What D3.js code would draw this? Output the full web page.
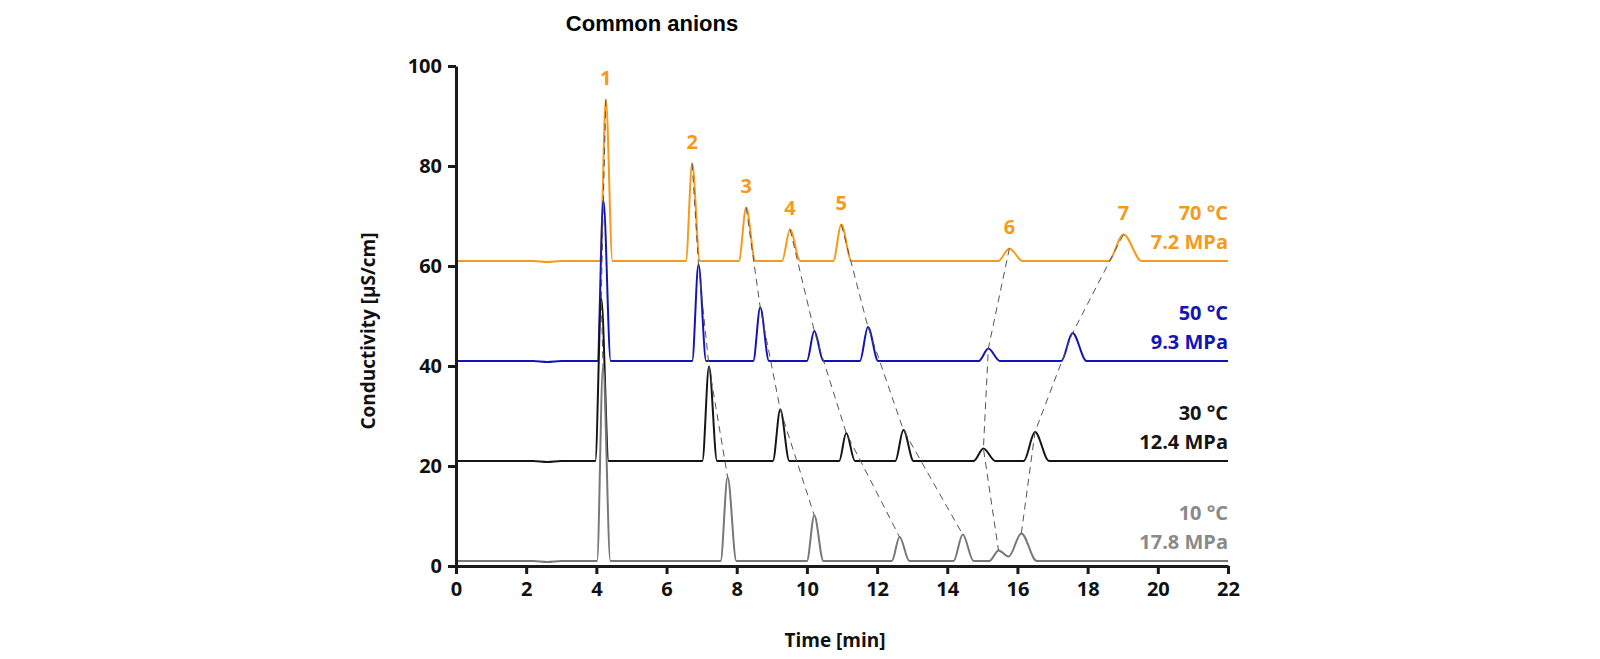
<!DOCTYPE html>
<html>
<head>
<meta charset="utf-8">
<script src="https://cdn.jsdelivr.net/npm/d3@7"></script>
<style>
  body { margin: 0; background: #fff; }
  text { font-family: "Open Sans", sans-serif; font-weight: 700; }
  .title { font-family: "Liberation Sans", Arial, sans-serif; }
</style>
</head>
<body>
<div id="chart"></div>
<script>
const width = 1600,
  height = 659,
  margin = { top: 66, bottom: 93, left: 456, right: 372 };

// chromatograms, [time in min, conductivity in µS/cm]
const trace70 = [
  [0, 61], [2.2, 61], [2.6, 60.8], [3.0, 61],
  [4.11, 61], [4.27, 93.3], [4.46, 61],
  [6.55, 61], [6.73, 80.5], [6.95, 61],
  [8.06, 61], [8.27, 71.7], [8.53, 61],
  [9.29, 61], [9.52, 67.3], [9.81, 61],
  [10.75, 61], [10.98, 68.3], [11.27, 61],
  [15.45, 61], [15.77, 63.5], [16.15, 61],
  [18.59, 61], [19.02, 66.3], [19.54, 61],
  [22, 61],
];
const trace50 = [
  [0, 41], [2.2, 41], [2.6, 40.8], [3.0, 41],
  [4.03, 41], [4.2, 73.1], [4.41, 41],
  [6.73, 41], [6.91, 60.3], [7.13, 41],
  [8.47, 41], [8.67, 51.7], [8.92, 41],
  [10.0, 41], [10.21, 47.0], [10.47, 41],
  [11.51, 41], [11.74, 47.8], [12.03, 41],
  [14.9, 41], [15.17, 43.5], [15.5, 41],
  [17.25, 41], [17.57, 46.6], [17.97, 41],
  [22, 41],
];
const trace30 = [
  [0, 21], [2.2, 21], [2.6, 20.8], [3.0, 21],
  [3.97, 21], [4.14, 53.5], [4.35, 21],
  [7.02, 21], [7.21, 39.9], [7.44, 21],
  [9.03, 21], [9.24, 31.3], [9.5, 21],
  [10.92, 21], [11.12, 26.6], [11.37, 21],
  [12.52, 21], [12.75, 27.2], [13.04, 21],
  [14.75, 21], [15.03, 23.5], [15.37, 21],
  [16.18, 21], [16.5, 26.8], [16.9, 21],
  [22, 21],
];
const trace10 = [
  [0, 1], [2.2, 1], [2.6, 0.8], [3.0, 1],
  [4.02, 1], [4.19, 40], [4.4, 1],
  [7.54, 1], [7.74, 17.8], [7.99, 1],
  [10.0, 1], [10.21, 10.1], [10.47, 1],
  [12.42, 1], [12.64, 5.8], [12.92, 1],
  [14.18, 1], [14.44, 6.3], [14.75, 1],
  [15.2, 1], [15.46, 3.1], [15.75, 1.9], [16.11, 6.5], [16.55, 1],
  [22, 1],
];

// peak apexes (time, height) per run, used for the dashed guide lines
const apex70 = [[4.27, 93.3], [6.73, 80.5], [8.27, 71.7], [9.52, 67.3], [10.98, 68.3], [15.77, 63.5], [19.02, 66.3]];
const apex50 = [[4.2, 73.1], [6.91, 60.3], [8.67, 51.7], [10.21, 47.0], [11.74, 47.8], [15.17, 43.5], [17.57, 46.6]];
const apex30 = [[4.14, 53.5], [7.21, 39.9], [9.24, 31.3], [11.12, 26.6], [12.75, 27.2], [15.03, 23.5], [16.5, 26.8]];
const apex10 = [[4.19, 40], [7.74, 17.8], [10.21, 10.1], [12.64, 5.8], [14.44, 6.3], [15.46, 3.1], [16.11, 6.5]];

const peakLabels = ["1", "2", "3", "4", "5", "6", "7"];
const runTemps = ["70 °C", "50 °C", "30 °C", "10 °C"];
const runPressures = ["7.2 MPa", "9.3 MPa", "12.4 MPa", "17.8 MPa"];
const runColors = ["#f59a1b", "#1414b4", "#151515", "#8a8a8a"];
const xTicks = [0, 2, 4, 6, 8, 10, 12, 14, 16, 18, 20, 22];
const yTicks = [0, 20, 40, 60, 80, 100];

const traces = [trace70, trace50, trace30, trace10];
const apexes = [apex70, apex50, apex30, apex10];

const svg = d3
  .select("#chart")
  .append("svg")
  .attr("width", width)
  .attr("height", height);

const xScale = d3
  .scaleLinear()
  .domain([0, 22])
  .range([margin.left, width - margin.right]);

const yScale = d3
  .scaleLinear()
  .domain([0, 100])
  .range([height - margin.bottom, margin.top]);

svg
  .append("text")
  .attr("class", "title")
  .attr("x", 652)
  .attr("y", 31)
  .attr("text-anchor", "middle")
  .attr("font-size", 22)
  .text("Common anions");

const line = d3
  .line()
  .x(d => xScale(d[0]))
  .y(d => yScale(d[1]))
  .curve(d3.curveMonotoneX);

svg
  .selectAll("path.trace")
  .data(traces)
  .join("path")
  .attr("class", "trace")
  .attr("fill", "none")
  .attr("stroke", (d, i) => (i === 3 ? "#777" : runColors[i]))
  .attr("stroke-width", 2)
  .attr("stroke-linejoin", "round")
  .attr("d", line);

// dashed lines joining the same peak from run to run
const guide = d3
  .line()
  .x(d => xScale(d[0]))
  .y(d => yScale(d[1]));

svg
  .selectAll("path.guide")
  .data(peakLabels.map((p, i) => apexes.map(a => a[i])))
  .join("path")
  .attr("class", "guide")
  .attr("fill", "none")
  .attr("stroke", "#555")
  .attr("stroke-width", 1)
  .attr("stroke-dasharray", "7,5")
  .attr("d", guide);

svg
  .selectAll("text.peak")
  .data(apex70)
  .join("text")
  .attr("class", "peak")
  .attr("x", d => xScale(d[0]))
  .attr("y", d => yScale(d[1]) - 15)
  .attr("text-anchor", "middle")
  .attr("font-size", 20)
  .attr("fill", runColors[0])
  .text((d, i) => peakLabels[i]);

// run labels at the right end of each trace
const baseY = traces.map(t => t[t.length - 1][1]);
runTemps.forEach((t, i) => {
  svg
    .append("text")
    .attr("x", xScale(22))
    .attr("y", yScale(baseY[i]) - 41)
    .attr("text-anchor", "end")
    .attr("font-size", 20)
    .attr("fill", runColors[i])
    .text(t);
  svg
    .append("text")
    .attr("x", xScale(22))
    .attr("y", yScale(baseY[i]) - 12)
    .attr("text-anchor", "end")
    .attr("font-size", 20)
    .attr("fill", runColors[i])
    .text(runPressures[i]);
});

const xAxis = d3.axisBottom(xScale).tickValues(xTicks).tickSize(8).tickSizeOuter(0).tickPadding(8);
const yAxis = d3.axisLeft(yScale).tickValues(yTicks).tickSize(8).tickSizeOuter(0).tickPadding(6);

const gx = svg
  .append("g")
  .attr("class", "axis x-axis")
  .attr("transform", `translate(0,${height - margin.bottom})`)
  .call(xAxis);

const gy = svg
  .append("g")
  .attr("class", "axis y-axis")
  .attr("transform", `translate(${margin.left},0)`)
  .call(yAxis);

[gx, gy].forEach(g => {
  g.select(".domain").attr("stroke", "#1a1a1a").attr("stroke-width", 3);
  g.selectAll(".tick line").attr("stroke", "#1a1a1a").attr("stroke-width", 3);
  g.selectAll(".tick text")
    .attr("fill", "#111")
    .attr("font-family", "'Open Sans', sans-serif")
    .attr("font-weight", 700)
    .attr("font-size", 20);
});

svg
  .append("text")
  .attr("x", 835)
  .attr("y", 647)
  .attr("text-anchor", "middle")
  .attr("font-size", 19)
  .attr("fill", "#111")
  .text("Time [min]");

svg
  .append("text")
  .attr("transform", "translate(375,331) rotate(-90)")
  .attr("text-anchor", "middle")
  .attr("font-size", 19)
  .attr("fill", "#111")
  .text("Conductivity [µS/cm]");
</script>
</body>
</html>
